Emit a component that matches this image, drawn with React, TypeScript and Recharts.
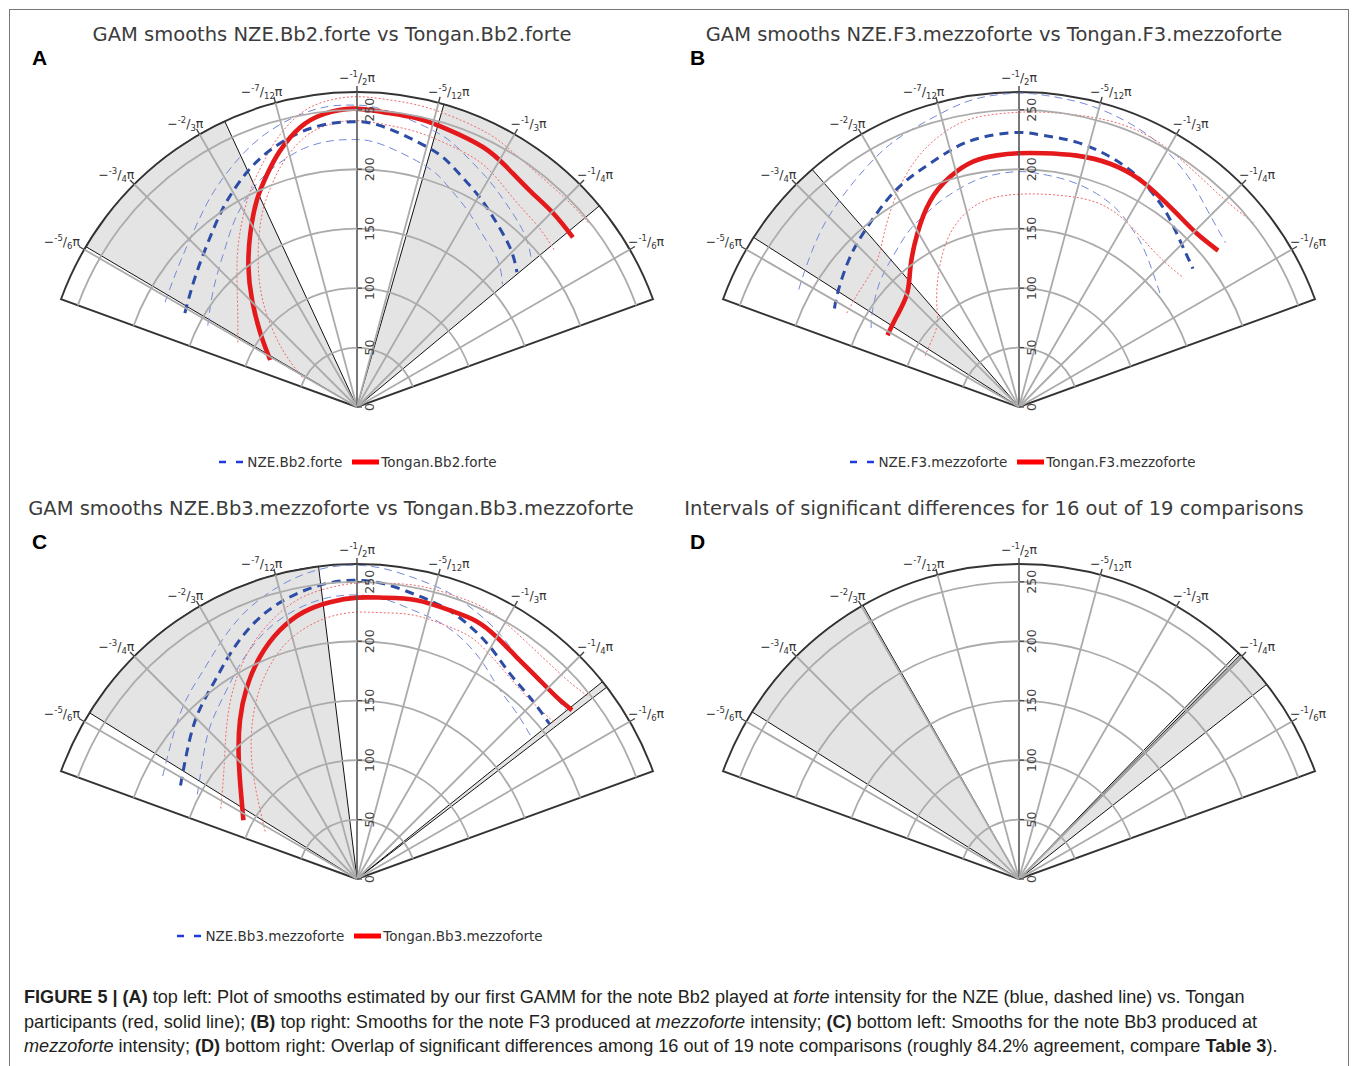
import React from 'react';
import { RadarChart, Radar, PolarAngleAxis, PolarRadiusAxis, Sector, Curve } from 'recharts';

type Pt = [number, number];

// ---------- axes (angles in units of pi) ----------
const THETA_DOMAIN: [number, number] = [-8 / 9, -1 / 9];
const R_MAX = 265;
const angleTicks = [-5 / 6, -3 / 4, -2 / 3, -7 / 12, -1 / 2, -5 / 12, -1 / 3, -1 / 4, -1 / 6];
const angleTickNum = ['-5', '-3', '-2', '-7', '-1', '-5', '-1', '-1', '-1'];
const angleTickDen = ['6', '4', '3', '12', '2', '12', '3', '4', '6'];
const radiusTicks = [0, 50, 100, 150, 200, 250];

// ---------- Panel A : Bb2 forte ----------
const nzeA: Pt[] = [[-0.841, 165], [-0.778, 176], [-0.717, 192], [-0.679, 205], [-0.640, 218], [-0.604, 228], [-0.565, 236], [-0.530, 239.5], [-0.504, 240], [-0.471, 237], [-0.413, 226], [-0.379, 217.5], [-0.338, 206], [-0.302, 196.5], [-0.257, 186], [-0.223, 176]];
const nzeAHi: Pt[] = [[-0.841, 184], [-0.778, 193], [-0.717, 208], [-0.679, 220], [-0.640, 232], [-0.604, 242], [-0.565, 250], [-0.530, 254], [-0.504, 254], [-0.471, 251], [-0.413, 241], [-0.379, 233], [-0.338, 222], [-0.302, 213], [-0.257, 203], [-0.223, 192]];
const nzeALo: Pt[] = [[-0.841, 143], [-0.778, 157], [-0.717, 175], [-0.679, 190], [-0.640, 204], [-0.604, 214], [-0.565, 222], [-0.530, 225], [-0.504, 225], [-0.471, 222], [-0.413, 211], [-0.379, 202], [-0.338, 190], [-0.302, 180], [-0.257, 171], [-0.223, 160]];
const tonA: Pt[] = [[-0.842, 83], [-0.793, 102], [-0.747, 126], [-0.710, 149], [-0.676, 171], [-0.644, 193], [-0.617, 210], [-0.593, 225], [-0.564, 240], [-0.536, 248], [-0.504, 251], [-0.472, 249], [-0.435, 248], [-0.397, 245.5], [-0.356, 243], [-0.323, 238], [-0.286, 233], [-0.248, 232], [-0.212, 231]];
const tonAHi: Pt[] = [[-0.842, 114], [-0.793, 126], [-0.747, 144], [-0.710, 164], [-0.676, 184], [-0.644, 204], [-0.617, 220], [-0.593, 235], [-0.564, 250], [-0.536, 258], [-0.504, 261], [-0.472, 260], [-0.435, 259], [-0.397, 257], [-0.356, 255], [-0.323, 251], [-0.286, 248], [-0.248, 248], [-0.212, 249]];
const tonALo: Pt[] = [[-0.842, 52], [-0.793, 78], [-0.747, 108], [-0.710, 134], [-0.676, 158], [-0.644, 182], [-0.617, 200], [-0.593, 215], [-0.564, 230], [-0.536, 238], [-0.504, 241], [-0.472, 239], [-0.435, 237], [-0.397, 234], [-0.356, 231], [-0.323, 225], [-0.286, 218], [-0.248, 215], [-0.212, 212]];
const shadeA: Pt[] = [[-0.830, -0.638], [-0.411, -0.2205]];

// ---------- Panel B : F3 mezzoforte ----------
const nzeB: Pt[] = [[-0.844, 176], [-0.817, 181], [-0.769, 190], [-0.723, 198], [-0.681, 206.5], [-0.646, 213], [-0.612, 218], [-0.575, 225], [-0.542, 229], [-0.503, 231], [-0.472, 229.5], [-0.432, 228], [-0.389, 224], [-0.351, 218.5], [-0.322, 212], [-0.293, 205], [-0.256, 195], [-0.214, 187]];
const nzeBHi: Pt[] = [[-0.844, 210], [-0.817, 214], [-0.769, 223], [-0.723, 231], [-0.681, 239], [-0.646, 246], [-0.612, 251], [-0.575, 257], [-0.542, 262], [-0.503, 264], [-0.472, 263], [-0.432, 261], [-0.389, 257], [-0.351, 252], [-0.322, 246], [-0.293, 239], [-0.256, 229], [-0.214, 222]];
const nzeBLo: Pt[] = [[-0.844, 141], [-0.817, 147], [-0.769, 157], [-0.723, 165], [-0.681, 174], [-0.646, 180], [-0.612, 186], [-0.575, 192], [-0.542, 196], [-0.503, 198], [-0.472, 197], [-0.432, 195], [-0.389, 191], [-0.351, 185], [-0.322, 178], [-0.293, 171], [-0.256, 161], [-0.214, 152]];
const tonB: Pt[] = [[-0.841, 126], [-0.798, 128], [-0.748, 134], [-0.710, 149], [-0.669, 169], [-0.629, 189], [-0.593, 202], [-0.559, 210], [-0.528, 212.5], [-0.500, 213.5], [-0.469, 214.5], [-0.428, 217], [-0.386, 218.5], [-0.349, 217], [-0.318, 213.5], [-0.282, 210], [-0.246, 209], [-0.212, 213]];
const tonBHi: Pt[] = [[-0.841, 165], [-0.798, 166], [-0.748, 171], [-0.710, 185], [-0.669, 205], [-0.629, 224], [-0.593, 237], [-0.559, 245], [-0.528, 247], [-0.500, 248], [-0.469, 249], [-0.428, 251], [-0.386, 253], [-0.349, 252], [-0.318, 249], [-0.282, 246], [-0.246, 246], [-0.212, 251]];
const tonBLo: Pt[] = [[-0.841, 90], [-0.798, 92], [-0.748, 98], [-0.710, 113], [-0.669, 133], [-0.629, 153], [-0.593, 167], [-0.559, 175], [-0.528, 178], [-0.500, 179], [-0.469, 180], [-0.428, 182], [-0.386, 184], [-0.349, 182], [-0.318, 178], [-0.282, 174], [-0.246, 173], [-0.212, 176]];
const shadeB: Pt[] = [[-0.819, -0.728]];

// ---------- Panel C : Bb3 mezzoforte ----------
const nzeC: Pt[] = [[-0.845, 168], [-0.798, 178], [-0.748, 192], [-0.702, 204], [-0.663, 217.5], [-0.628, 230], [-0.595, 239.5], [-0.562, 246], [-0.532, 250], [-0.504, 251.3], [-0.472, 249.5], [-0.434, 244], [-0.402, 240], [-0.371, 234], [-0.334, 225], [-0.297, 215.5], [-0.258, 211], [-0.216, 208]];
const nzeCHi: Pt[] = [[-0.845, 185], [-0.798, 194], [-0.748, 207], [-0.702, 218], [-0.663, 231], [-0.628, 243], [-0.595, 252], [-0.562, 259], [-0.532, 263], [-0.504, 264], [-0.472, 262], [-0.434, 257], [-0.402, 253], [-0.371, 247], [-0.334, 239], [-0.297, 230], [-0.258, 227], [-0.216, 226]];
const nzeCLo: Pt[] = [[-0.845, 152], [-0.798, 162], [-0.748, 177], [-0.702, 190], [-0.663, 204], [-0.628, 217], [-0.595, 227], [-0.562, 234], [-0.532, 238], [-0.504, 239], [-0.472, 237], [-0.434, 231], [-0.402, 227], [-0.371, 221], [-0.334, 211], [-0.297, 200], [-0.258, 194], [-0.216, 189]];
const tonC: Pt[] = [[-0.848, 107.6], [-0.787, 125], [-0.741, 145], [-0.702, 166], [-0.666, 186], [-0.631, 204], [-0.596, 219], [-0.563, 229], [-0.531, 234], [-0.500, 236.7], [-0.470, 237.7], [-0.433, 239.8], [-0.394, 239.2], [-0.362, 239], [-0.333, 235], [-0.302, 230], [-0.269, 227.4], [-0.236, 227.2], [-0.212, 230]];
const tonCHi: Pt[] = [[-0.848, 129], [-0.787, 143], [-0.741, 161], [-0.702, 181], [-0.666, 200], [-0.631, 217], [-0.596, 231], [-0.563, 241], [-0.531, 246], [-0.500, 249], [-0.470, 250], [-0.433, 252], [-0.394, 252], [-0.362, 252], [-0.333, 249], [-0.302, 245], [-0.269, 243], [-0.236, 244], [-0.212, 248]];
const tonCLo: Pt[] = [[-0.848, 87], [-0.787, 106], [-0.741, 128], [-0.702, 150], [-0.666, 171], [-0.631, 190], [-0.596, 206], [-0.563, 216], [-0.531, 222], [-0.500, 224.5], [-0.470, 225], [-0.433, 227], [-0.394, 226], [-0.362, 225], [-0.333, 220], [-0.302, 214], [-0.269, 210], [-0.236, 210], [-0.212, 212]];
const shadeC: Pt[] = [[-0.823, -0.539], [-0.2155, -0.2085]];

// ---------- Panel D : overlap of significant intervals ----------
const shadeD: Pt[] = [[-0.822, -0.665], [-0.255, -0.212], [-0.252, -0.249]];

// ---------- layout ----------
const CX = 357;
const CY = 407;
const OUTER = 315;
const START = 160;
const END = 20;
const CHART_W = 695;
const CHART_H = 474;

const FONT = '"DejaVu Sans", Verdana, sans-serif';
const STY: Record<string, { stroke: string; width: number; dash?: string }> = {
  nze: { stroke: '#2c4ca6', width: 3, dash: '9 6' },
  nzeCI: { stroke: '#7489d6', width: 1, dash: '8 5' },
  ton: { stroke: '#e3191c', width: 4.6 },
  tonCI: { stroke: '#f06a6a', width: 1, dash: '2 2' },
};

const toRad = (d: number) => (d * Math.PI) / 180;
const pol = (r: number, deg: number) => ({ x: CX + r * Math.cos(toRad(deg)), y: CY - r * Math.sin(toRad(deg)) });
const hasValue = (p: any) => typeof p.value === 'number' && Number.isFinite(p.value) && Number.isFinite(p.x) && Number.isFinite(p.y);
const valid = (pts: any[] = []) => pts.filter(hasValue);

function AngleTick(props: any) {
  const { payload } = props;
  const a: number = payload.coordinate;
  const v: number = payload.value;
  const idx = angleTicks.findIndex((t) => Math.abs(t - v) < 1e-6);
  const p1 = pol(OUTER, a);
  const p2 = pol(OUTER + 6, a);
  const c = Math.cos(toRad(a));
  const s = Math.sin(toRad(a));
  const isAxis = Math.abs(c) < 0.01;
  let anchor = 'middle';
  let dx = 0;
  let dy = -4;
  if (!isAxis && c < 0) {
    anchor = 'end';
    dx = 1 + 16 * (s - 0.5);
    dy = -1;
  } else if (!isAxis) {
    anchor = 'start';
    dx = s > 0.95 ? -12 : -7;
    dy = -1;
  }
  return (
    <g>
      <line x1={CX} y1={CY} x2={p1.x} y2={p1.y} stroke={isAxis ? '#555' : '#ababab'} strokeWidth={isAxis ? 1.6 : 1.8} />
      <line x1={p1.x} y1={p1.y} x2={p2.x} y2={p2.y} stroke="#444" strokeWidth={1.4} />
      {idx >= 0 && (
        <text x={p2.x + dx} y={p2.y + dy} textAnchor={anchor} fontFamily={FONT} fontSize={12.5} fill="#333">
          <tspan>−</tspan>
          <tspan fontSize={8.5} dy={-5}>{angleTickNum[idx]}</tspan>
          <tspan dy={5}>/</tspan>
          <tspan fontSize={8.5} dy={3}>{angleTickDen[idx]}</tspan>
          <tspan dy={-3}>π</tspan>
        </text>
      )}
    </g>
  );
}

function RadiusTick(props: any) {
  const { payload } = props;
  const r: number = Number.isFinite(payload?.coordinate) ? payload.coordinate : CY - props.y;
  const a = pol(r, START);
  const b = pol(r, END);
  const tx = CX + 17;
  const ty = CY - r;
  return (
    <g>
      {r > 0 && <path d={`M${a.x},${a.y} A${r},${r} 0 0 1 ${b.x},${b.y}`} fill="none" stroke="#ababab" strokeWidth={1.8} />}
      <line x1={CX} y1={ty} x2={CX + 5} y2={ty} stroke="#444" strokeWidth={1.2} />
      <text x={tx} y={ty} transform={`rotate(-90 ${tx} ${ty})`} textAnchor="middle" fontFamily={FONT} fontSize={12.5} fill="#444">
        {payload.value}
      </text>
    </g>
  );
}

function ShadeShape(props: any) {
  const pts = valid(props.points);
  const out: React.ReactNode[] = [];
  for (let i = 0; i + 1 < pts.length; i += 2) {
    const p = pts[i];
    const q = pts[i + 1];
    out.push(
      <Sector key={i} cx={p.cx} cy={p.cy} innerRadius={0} outerRadius={p.radius} startAngle={p.angle} endAngle={q.angle} fill="rgba(0,0,0,0.105)" stroke="#111" strokeWidth={1} />
    );
  }
  return <g>{out}</g>;
}

function FrameShape(props: any) {
  const pts = valid(props.points);
  if (pts.length < 2) return <g />;
  const p = pts[0];
  const q = pts[1];
  const d = `M${p.cx},${p.cy} L${p.x},${p.y} A${p.radius},${p.radius} 0 0 1 ${q.x},${q.y} Z`;
  return <path d={d} fill="none" stroke="#333" strokeWidth={1.9} strokeLinejoin="miter" />;
}

const lineShape = (kind: string) => (props: any) => {
  const pts = valid(props.points).map((p: any) => ({ x: p.x, y: p.y }));
  const st = STY[kind];
  return <Curve type="natural" points={pts} fill="none" stroke={st.stroke} strokeWidth={st.width} strokeDasharray={st.dash} />;
};

type Series = { key: string; kind: string; pts: Pt[] };

function buildRows(series: Series[], shade: Pt[]) {
  const rows: any[] = [];
  rows.push({ theta: THETA_DOMAIN[0], frame: R_MAX }, { theta: THETA_DOMAIN[1], frame: R_MAX });
  shade.forEach(([a, b]) => {
    rows.push({ theta: a, shade: R_MAX }, { theta: b, shade: R_MAX });
  });
  series.forEach((s) => s.pts.forEach(([t, r]) => rows.push({ theta: t, [s.key]: r })));
  return rows;
}

function PolarPanel({ left, top, series, shade }: { left: number; top: number; series: Series[]; shade: Pt[] }) {
  const data = buildRows(series, shade);
  return (
    <div style={{ position: 'absolute', left, top, width: CHART_W, height: CHART_H }}>
      <RadarChart
        width={CHART_W}
        height={CHART_H}
        data={data}
        cx={CX}
        cy={CY}
        innerRadius={0}
        outerRadius={OUTER}
        startAngle={START}
        endAngle={END}
        margin={{ top: 0, right: 0, bottom: 0, left: 0 }}
      >
        <Radar dataKey="shade" shape={ShadeShape} isAnimationActive={false} dot={false} activeDot={false} legendType="none" />
        <PolarAngleAxis
          dataKey="theta"
          type="number"
          domain={THETA_DOMAIN}
          allowDataOverflow
          ticks={angleTicks as any}
          tick={AngleTick}
          tickLine={false}
          axisLine={false}
        />
        <PolarRadiusAxis
          type="number"
          angle={90}
          domain={[0, R_MAX]}
          allowDataOverflow
          ticks={radiusTicks as any}
          tickCount={6}
          tick={RadiusTick}
          axisLine={false}
        />
        <Radar dataKey="frame" shape={FrameShape} isAnimationActive={false} dot={false} activeDot={false} legendType="none" />
        {series.map((s) => (
          <Radar key={s.key} dataKey={s.key} shape={lineShape(s.kind)} isAnimationActive={false} dot={false} activeDot={false} legendType="none" />
        ))}
      </RadarChart>
    </div>
  );
}

function LegendRow({ x, y, nze, ton }: { x: number; y: number; nze: string; ton: string }) {
  return (
    <div
      style={{
        position: 'absolute',
        left: x - 250,
        top: y - 9,
        width: 500,
        height: 18,
        display: 'flex',
        justifyContent: 'center',
        alignItems: 'center',
        fontFamily: FONT,
        fontSize: 13.5,
        color: '#333',
        whiteSpace: 'nowrap',
      }}
    >
      <svg width={26} height={10} style={{ marginRight: 2 }}>
        <line x1={0} y1={5} x2={26} y2={5} stroke="#1f3be0" strokeWidth={2.6} strokeDasharray="7 10" />
      </svg>
      <span>{nze}</span>
      <svg width={27} height={10} style={{ marginLeft: 10, marginRight: 2 }}>
        <line x1={0} y1={5} x2={27} y2={5} stroke="#ff0000" strokeWidth={5} />
      </svg>
      <span>{ton}</span>
    </div>
  );
}

function Title({ x, y, text }: { x: number; y: number; text: string }) {
  return (
    <div style={{ position: 'absolute', left: x - 340, top: y - 12, width: 680, textAlign: 'center', fontFamily: FONT, fontSize: 19.5, color: '#3c3c3c', whiteSpace: 'nowrap', lineHeight: '24px' }}>
      {text}
    </div>
  );
}

function Letter({ x, y, text }: { x: number; y: number; text: string }) {
  return (
    <div style={{ position: 'absolute', left: x, top: y - 12, fontFamily: '"Liberation Sans", Arial, sans-serif', fontWeight: 'bold', fontSize: 21, color: '#000', lineHeight: '24px' }}>
      {text}
    </div>
  );
}

const seriesA: Series[] = [
  { key: 'nzeLo', kind: 'nzeCI', pts: nzeALo },
  { key: 'nzeHi', kind: 'nzeCI', pts: nzeAHi },
  { key: 'tonLo', kind: 'tonCI', pts: tonALo },
  { key: 'tonHi', kind: 'tonCI', pts: tonAHi },
  { key: 'nze', kind: 'nze', pts: nzeA },
  { key: 'ton', kind: 'ton', pts: tonA },
];
const seriesB: Series[] = [
  { key: 'nzeLo', kind: 'nzeCI', pts: nzeBLo },
  { key: 'nzeHi', kind: 'nzeCI', pts: nzeBHi },
  { key: 'tonLo', kind: 'tonCI', pts: tonBLo },
  { key: 'tonHi', kind: 'tonCI', pts: tonBHi },
  { key: 'nze', kind: 'nze', pts: nzeB },
  { key: 'ton', kind: 'ton', pts: tonB },
];
const seriesC: Series[] = [
  { key: 'nzeLo', kind: 'nzeCI', pts: nzeCLo },
  { key: 'nzeHi', kind: 'nzeCI', pts: nzeCHi },
  { key: 'tonLo', kind: 'tonCI', pts: tonCLo },
  { key: 'tonHi', kind: 'tonCI', pts: tonCHi },
  { key: 'nze', kind: 'nze', pts: nzeC },
  { key: 'ton', kind: 'ton', pts: tonC },
];

export default function App() {
  const cap: React.CSSProperties = { position: 'absolute', left: 24, fontFamily: '"Liberation Sans", Arial, sans-serif', fontSize: 18.1, color: '#231f20', whiteSpace: 'nowrap', lineHeight: '20px' };
  return (
    <div style={{ position: 'absolute', left: 0, top: 0, width: 1357, height: 1066, overflow: 'hidden', background: '#fff' }}>
      <div style={{ position: 'absolute', left: 9, top: 9, width: 1340, height: 1100, border: '1.5px solid #777', boxSizing: 'border-box' }} />

      <PolarPanel left={0} top={0} series={seriesA} shade={shadeA} />
      <PolarPanel left={662} top={0} series={seriesB} shade={shadeB} />
      <PolarPanel left={0} top={472} series={seriesC} shade={shadeC} />
      <PolarPanel left={662} top={472} series={[]} shade={shadeD} />

      <Title x={332} y={35} text="GAM smooths NZE.Bb2.forte vs Tongan.Bb2.forte" />
      <Title x={994} y={35} text="GAM smooths NZE.F3.mezzoforte vs Tongan.F3.mezzoforte" />
      <Title x={331} y={509} text="GAM smooths NZE.Bb3.mezzoforte vs Tongan.Bb3.mezzoforte" />
      <Title x={994} y={509} text="Intervals of significant differences for 16 out of 19 comparisons" />

      <Letter x={32} y={58} text="A" />
      <Letter x={690} y={58} text="B" />
      <Letter x={32} y={542} text="C" />
      <Letter x={690} y={542} text="D" />

      <LegendRow x={358} y={462} nze="NZE.Bb2.forte" ton="Tongan.Bb2.forte" />
      <LegendRow x={1023} y={462} nze="NZE.F3.mezzoforte" ton="Tongan.F3.mezzoforte" />
      <LegendRow x={360} y={936} nze="NZE.Bb3.mezzoforte" ton="Tongan.Bb3.mezzoforte" />

      <div style={{ ...cap, top: 987 }}>
        <b>FIGURE 5 | (A)</b> top left: Plot of smooths estimated by our first GAMM for the note Bb2 played at <i>forte</i> intensity for the NZE (blue, dashed line) vs. Tongan
      </div>
      <div style={{ ...cap, top: 1012 }}>
        participants (red, solid line); <b>(B)</b> top right: Smooths for the note F3 produced at <i>mezzoforte</i> intensity; <b>(C)</b> bottom left: Smooths for the note Bb3 produced at
      </div>
      <div style={{ ...cap, top: 1036 }}>
        <i>mezzoforte</i> intensity; <b>(D)</b> bottom right: Overlap of significant differences among 16 out of 19 note comparisons (roughly 84.2% agreement, compare <b>Table 3</b>).
      </div>
    </div>
  );
}
